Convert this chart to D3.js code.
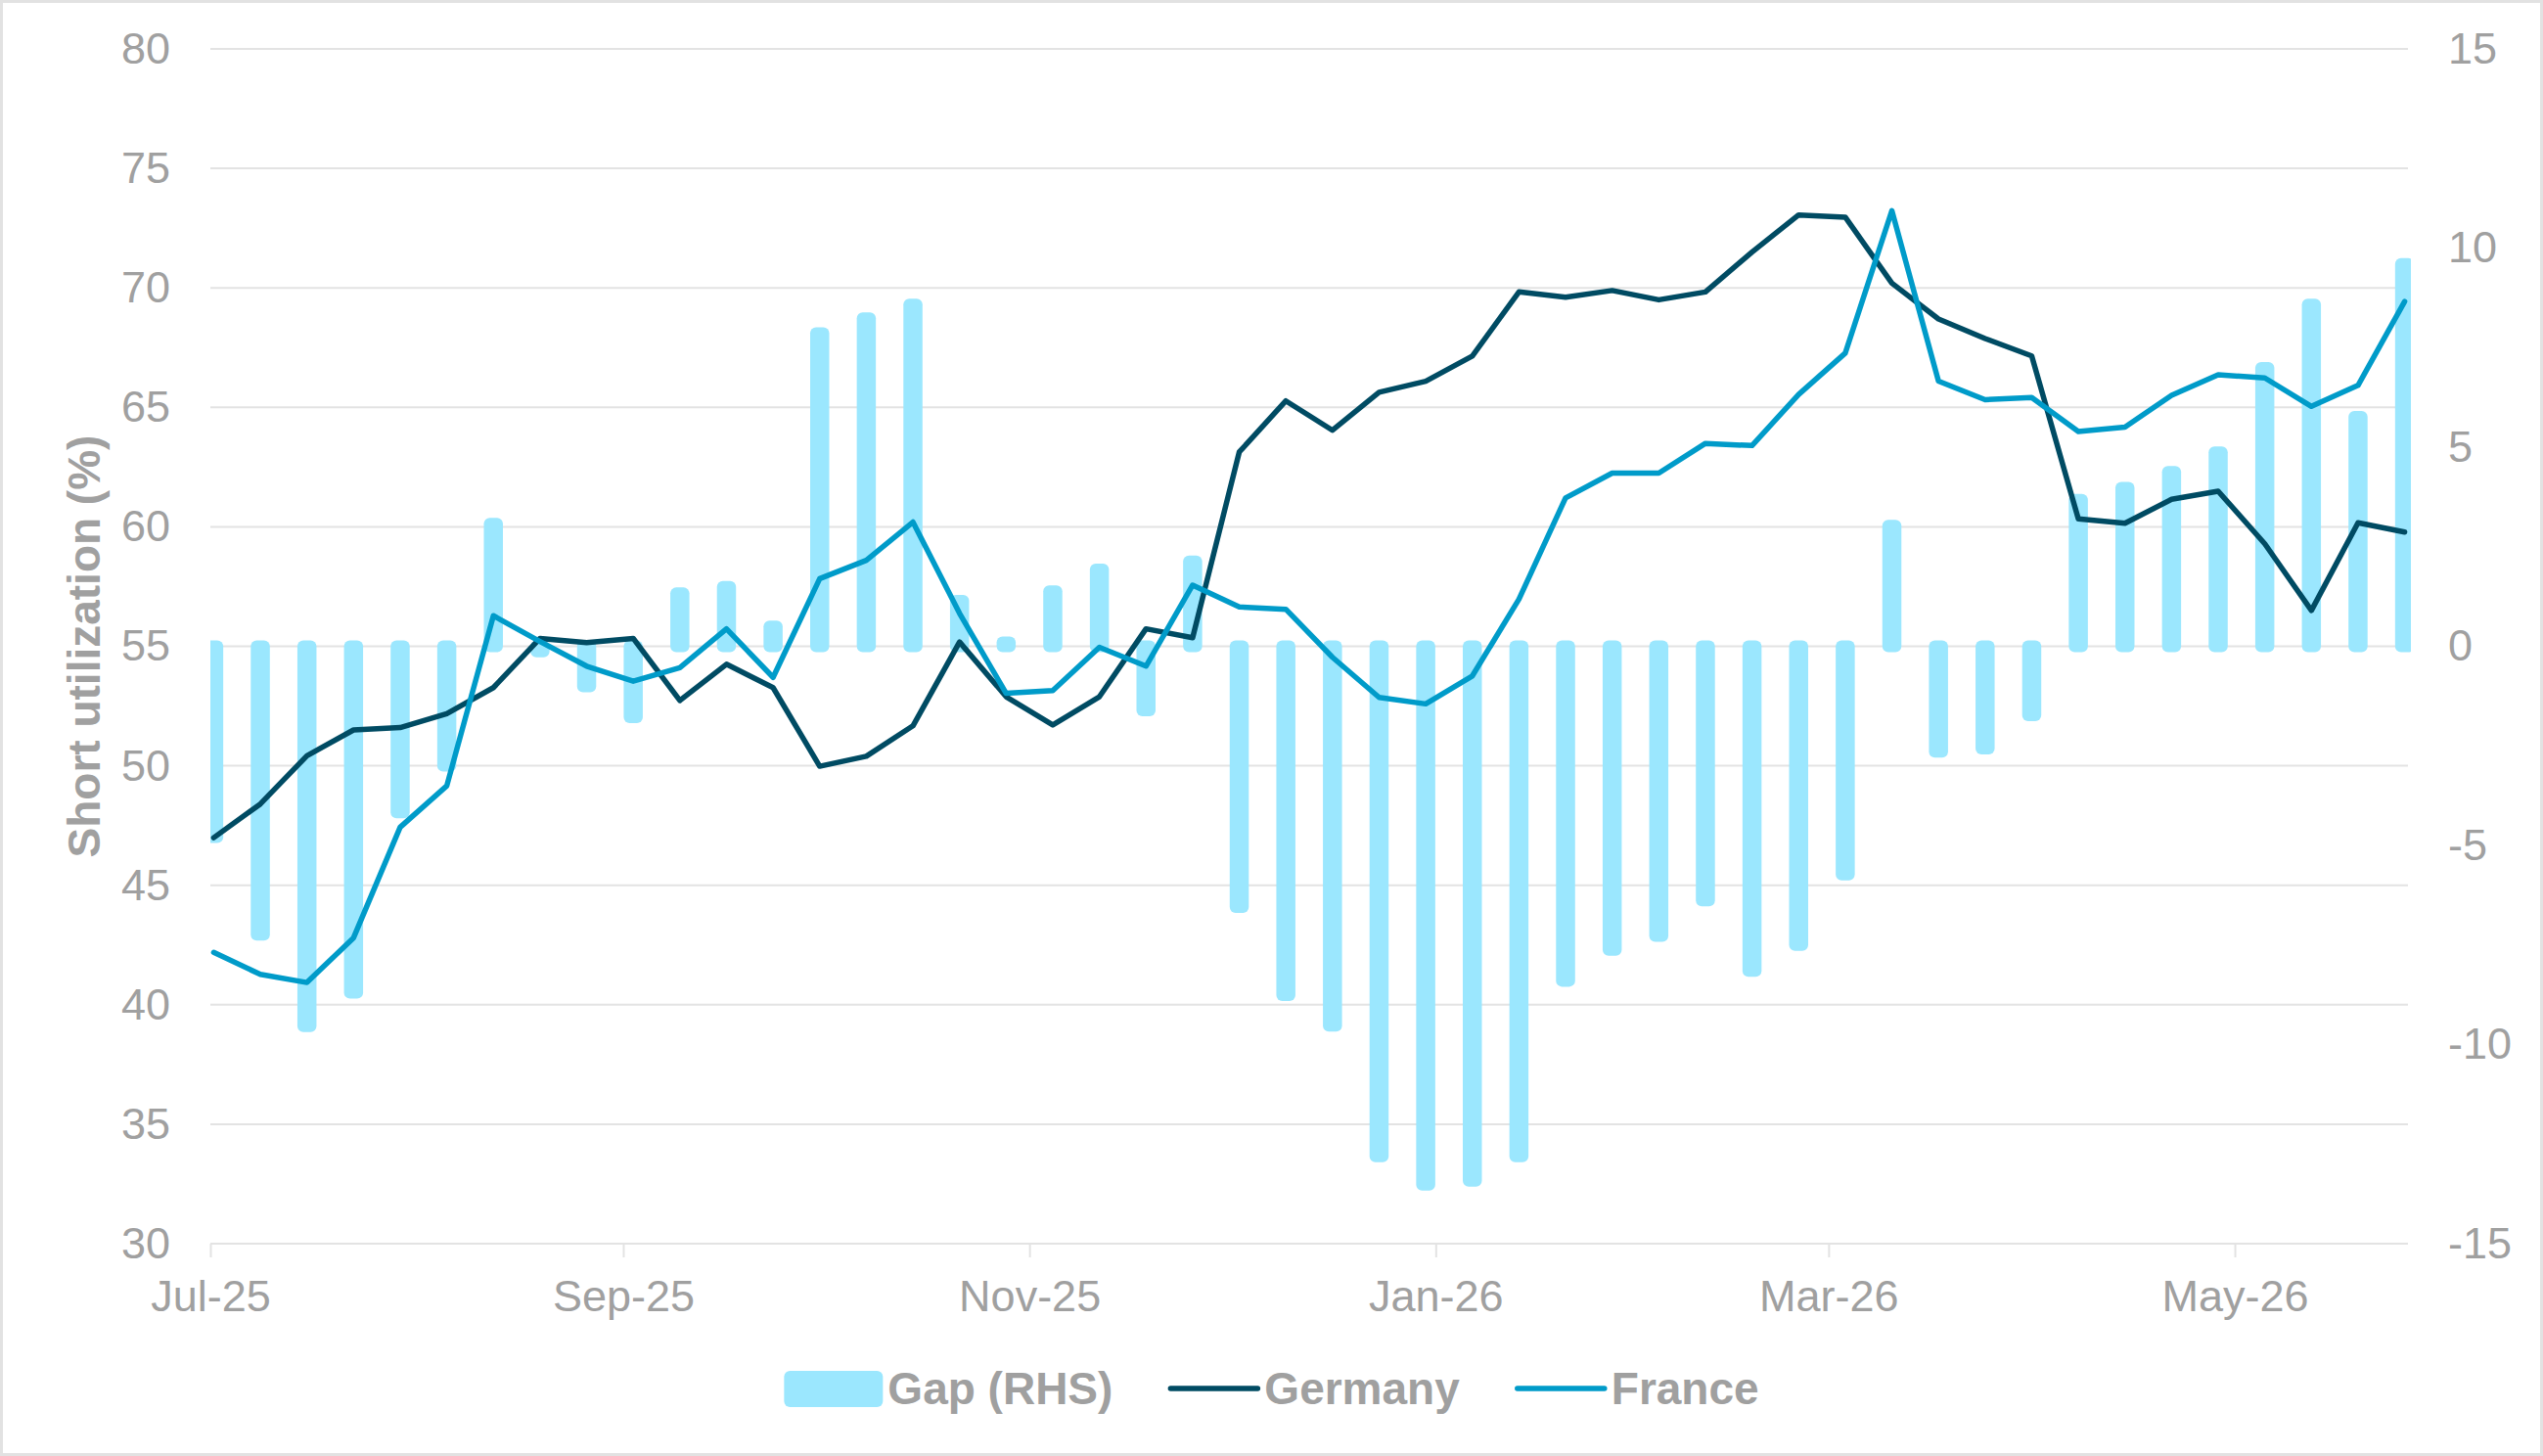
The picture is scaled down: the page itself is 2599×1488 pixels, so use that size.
<!DOCTYPE html>
<html>
<head>
<meta charset="utf-8">
<script src="https://cdn.jsdelivr.net/npm/d3@7"></script>
<style>
  body { margin: 0; background: #fff; }
  text { font-family: "Liberation Sans", Arial, sans-serif; }
</style>
</head>
<body>
<div id="chart"></div>
<script>
// weekly observations
var dates = ["2025-07-01", "2025-07-08", "2025-07-15", "2025-07-22", "2025-07-29", "2025-08-05",
    "2025-08-12", "2025-08-19", "2025-08-26", "2025-09-02", "2025-09-09", "2025-09-16",
    "2025-09-23", "2025-09-30", "2025-10-07", "2025-10-14", "2025-10-21", "2025-10-28",
    "2025-11-04", "2025-11-11", "2025-11-18", "2025-11-25", "2025-12-02", "2025-12-09",
    "2025-12-16", "2025-12-23", "2025-12-30", "2026-01-06", "2026-01-13", "2026-01-20",
    "2026-01-27", "2026-02-03", "2026-02-10", "2026-02-17", "2026-02-24", "2026-03-03",
    "2026-03-10", "2026-03-17", "2026-03-24", "2026-03-31", "2026-04-07", "2026-04-14",
    "2026-04-21", "2026-04-28", "2026-05-05", "2026-05-12", "2026-05-19", "2026-05-26"]

var germany = [46.99, 48.4, 50.42, 51.5, 51.6, 52.18, 53.27, 55.33, 55.15, 55.33, 52.73, 54.25,
    53.27, 49.98, 50.4, 51.67, 55.18, 52.89, 51.71, 52.89, 55.73, 55.36, 63.13, 65.27,
    64.04, 65.63, 66.09, 67.15, 69.83, 69.61, 69.89, 69.5, 69.83, 71.5, 73.05, 72.96,
    70.2, 68.7, 67.88, 67.15, 60.33, 60.15, 61.15, 61.49, 59.29, 56.5, 60.17, 59.78]

var france = [42.19, 41.27, 40.93, 42.8, 47.43, 49.16, 56.28, 55.2, 54.17, 53.54, 54.1, 55.73,
    53.7, 57.83, 58.6, 60.2, 56.38, 53.03, 53.15, 54.96, 54.17, 57.56, 56.65, 56.55,
    54.54, 52.86, 52.59, 53.76, 56.97, 61.21, 62.25, 62.25, 63.49, 63.4, 65.54, 67.27,
    73.23, 66.1, 65.32, 65.41, 63.99, 64.17, 65.5, 66.36, 66.23, 65.04, 65.92, 69.43]

var gap = [-4.79, -7.24, -9.54, -8.7, -4.17, -3.0, 3.08, -0.13, -1.01, -1.78, 1.33, 1.49,
    0.5, 7.86, 8.24, 8.58, 1.14, 0.1, 1.38, 1.93, -1.61, 2.13, -6.55, -8.76,
    -9.53, -12.81, -13.52, -13.42, -12.81, -8.4, -7.62, -7.27, -6.38, -8.15, -7.5, -5.73,
    3.03, -2.65, -2.57, -1.73, 3.68, 3.98, 4.38, 4.87, 6.99, 8.58, 5.76, 9.6]

var leftTicks = [30, 35, 40, 45, 50, 55, 60, 65, 70, 75, 80]
var rightTicks = [-15, -10, -5, 0, 5, 10, 15]
var xStart = "2025-07-01", xEnd = "2026-05-27"

var legendItems = [
    { name: "Gap (RHS)", type: "bar" },
    { name: "Germany", type: "line", key: "de" },
    { name: "France", type: "line", key: "fr" }
]

var barColor = "#9be7fe", deColor = "#004b63", frColor = "#009bc9"
var gridColor = "#e3e3e3", textColor = "#a0a0a0"

var W = 2599, H = 1488
var margin = { top: 50, right: 138, bottom: 217, left: 215 },
    width = W - margin.left - margin.right,
    height = H - margin.top - margin.bottom

var root = d3.select("#chart")
    .append("svg")
    .attr("width", W)
    .attr("height", H)

root.append("rect")
    .attr("x", 1.5).attr("y", 1.5)
    .attr("width", W - 3).attr("height", H - 3)
    .attr("fill", "#fff")
    .attr("stroke", "#e2e2e2")
    .attr("stroke-width", 3)

var svg = root.append("g")
    .attr("transform", "translate(" + margin.left + "," + margin.top + ")")

var parse = d3.utcParse("%Y-%m-%d")
var data = dates.map(function (d, i) {
    return { date: parse(d), de: germany[i], fr: france[i], gap: gap[i] }
})

var x = d3.scaleUtc()
    .domain([parse(xStart), parse(xEnd)])
    .range([0, width])
// excel puts each point in the middle of its day
var halfDay = (x(d3.utcDay.offset(parse(xStart), 1)) - x(parse(xStart))) / 2
function px(d) { return x(d.date) + halfDay }

var yL = d3.scaleLinear().domain([30, 80]).range([height, 0])
var yR = d3.scaleLinear().domain([-15, 15]).range([height, 0])

// gridlines
svg.append("g")
    .selectAll("line")
    .data(leftTicks)
    .enter()
    .append("line")
    .attr("x1", 0)
    .attr("x2", width)
    .attr("y1", function (d) { return yL(d) })
    .attr("y2", function (d) { return yL(d) })
    .attr("stroke", gridColor)
    .attr("stroke-width", 2)

// x axis
var xAxis = svg.append("g")
    .attr("transform", "translate(0," + height + ")")
    .call(d3.axisBottom(x)
        .ticks(d3.utcMonth.every(2))
        .tickFormat(d3.utcFormat("%b-%y"))
        .tickSize(14)
        .tickPadding(23))
xAxis.select(".domain").remove()
xAxis.selectAll("line").attr("stroke", gridColor).attr("stroke-width", 2)

// left axis
var lAxis = svg.append("g")
    .call(d3.axisLeft(yL).tickValues(leftTicks).tickSize(0).tickPadding(41))
lAxis.select(".domain").remove()

// right axis (plain hyphen for negatives, like the original)
var rAxis = svg.append("g")
    .attr("transform", "translate(" + width + ",0)")
    .call(d3.axisRight(yR).tickValues(rightTicks).tickSize(0).tickPadding(41)
        .tickFormat(function (d) { return String(d) }))
rAxis.select(".domain").remove()

svg.selectAll(".tick text")
    .attr("font-size", 45)
    .attr("font-family", "'Liberation Sans', Arial, sans-serif")
    .attr("fill", textColor)

// axis title
root.append("text")
    .attr("transform", "translate(86," + (margin.top + height / 2) + ") rotate(-90)")
    .attr("text-anchor", "middle")
    .attr("dominant-baseline", "central")
    .attr("font-size", 46)
    .attr("font-weight", "bold")
    .attr("fill", textColor)
    .text("Short utilization (%)")

// bars, clipped to the plot area
root.append("clipPath")
    .attr("id", "plotclip")
    .append("rect")
    .attr("x", 0).attr("y", -30)
    .attr("width", width + 3).attr("height", height + 60)

var bw = 7.5
svg.append("g")
    .attr("clip-path", "url(#plotclip)")
    .selectAll("rect")
    .data(data)
    .enter()
    .append("rect")
    .attr("x", function (d) { return px(d) - bw / 2 })
    .attr("y", function (d) { return yR(Math.max(0, d.gap)) })
    .attr("width", bw)
    .attr("height", function (d) { return Math.abs(yR(d.gap) - yR(0)) })
    .attr("fill", barColor)
    .attr("stroke", barColor)
    .attr("stroke-width", 12)
    .attr("stroke-linejoin", "round")

// lines
var lineDe = d3.line().x(px).y(function (d) { return yL(d.de) })
var lineFr = d3.line().x(px).y(function (d) { return yL(d.fr) })

svg.append("path")
    .datum(data)
    .attr("d", lineDe)
    .attr("fill", "none")
    .attr("stroke", deColor)
    .attr("stroke-width", 5.5)
    .attr("stroke-linejoin", "round")
    .attr("stroke-linecap", "round")

svg.append("path")
    .datum(data)
    .attr("d", lineFr)
    .attr("fill", "none")
    .attr("stroke", frColor)
    .attr("stroke-width", 5.5)
    .attr("stroke-linejoin", "round")
    .attr("stroke-linecap", "round")

// legend, centred on the picture
var legend = root.append("g")
var lx = 0, legY = 1419
legendItems.forEach(function (item, i) {
    var g = legend.append("g").attr("transform", "translate(" + lx + ",0)")
    var sw
    if (item.type == "bar") {
        sw = 101
        g.append("rect")
            .attr("x", 0).attr("y", legY - 18)
            .attr("width", sw).attr("height", 37)
            .attr("rx", 6)
            .attr("fill", barColor)
    } else {
        sw = 93
        g.append("line")
            .attr("x1", 2).attr("x2", sw - 2)
            .attr("y1", legY).attr("y2", legY)
            .attr("stroke", item.key == "de" ? deColor : frColor)
            .attr("stroke-width", 5.5)
            .attr("stroke-linecap", "round")
    }
    var t = g.append("text")
        .attr("x", sw + 5)
        .attr("y", legY)
        .attr("dominant-baseline", "central")
        .attr("font-size", 46)
        .attr("font-weight", "bold")
        .attr("fill", textColor)
        .text(item.name)
    lx += sw + 5 + t.node().getComputedTextLength() + 57
})
var legW = lx - 57
legend.attr("transform", "translate(" + (W / 2 - legW / 2) + ",0)")
</script>
</body>
</html>
